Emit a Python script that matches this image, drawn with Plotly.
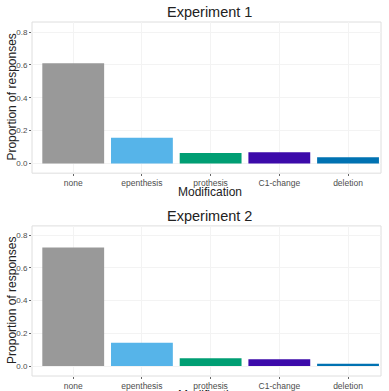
import plotly.graph_objects as go
from plotly.subplots import make_subplots

categories = ["none", "epenthesis", "prothesis", "C1-change", "deletion"]
exp1_values = [0.61, 0.157, 0.063, 0.068, 0.038]
exp2_values = [0.725, 0.142, 0.047, 0.041, 0.014]
bar_colors = ["#999999", "#56B4E9", "#009E73", "#3C0AAA", "#0072B2"]
y_ticks = [0.0, 0.2, 0.4, 0.6, 0.8]
y_tick_labels = ["0.0", "0.2", "0.4", "0.6", "0.8"]
titles = ["Experiment 1", "Experiment 2"]

fig = make_subplots(rows=2, cols=1, vertical_spacing=0.15)
for i, vals in enumerate([exp1_values, exp2_values], start=1):
    fig.add_trace(go.Bar(x=categories, y=vals, marker_color=bar_colors,
                         marker_line_width=0, showlegend=False, hoverinfo="skip"),
                  row=i, col=1)

font = "Liberation Sans, Arial, sans-serif"
x_axes = dict(showline=False, mirror=False, showgrid=True, gridcolor="#f3f3f3",
              ticks="outside", ticklen=2, tickcolor="#666666", automargin=False,
              tickfont=dict(size=8.5, color="#4d4d4d", family=font), zeroline=False)
y_axes = dict(showline=False, mirror=False, showgrid=True, gridcolor="#f3f3f3",
              ticks="outside", ticklen=2, tickcolor="#666666", automargin=False,
              tickfont=dict(size=8, color="#4d4d4d", family=font), zeroline=False)

fig.update_layout(
    width=389, height=391, bargap=0.1,
    margin=dict(l=32, r=8, t=22, b=15),
    paper_bgcolor="white", plot_bgcolor="white",
    xaxis=dict(domain=[0, 1], range=[-0.6, 4.48], **x_axes),
    xaxis2=dict(domain=[0, 1], range=[-0.6, 4.48], **x_axes),
    yaxis=dict(domain=[0.573, 1.0], range=[-0.059, 0.861], tickvals=y_ticks,
               ticktext=y_tick_labels, **y_axes),
    yaxis2=dict(domain=[0.0, 0.424], range=[-0.061, 0.857], tickvals=y_ticks,
                ticktext=y_tick_labels, **y_axes),
)

# panel borders
for yd in [(0.573, 1.0), (0.0, 0.424)]:
    fig.add_shape(type="rect", xref="paper", yref="paper", x0=0, x1=1, y0=yd[0], y1=yd[1],
                  line=dict(color="#dedede", width=1), fillcolor="rgba(0,0,0,0)", layer="below")

# titles and axis labels
title_y = [1.0, 0.424]
panel_bottom = [0.573, 0.0]
panel_mid = [(0.573 + 1.0) / 2, 0.212]
for k in range(2):
    fig.add_annotation(text=titles[k], xref="paper", yref="paper", x=0.51, y=title_y[k],
                       yshift=0, yanchor="bottom", showarrow=False,
                       font=dict(size=14.5, color="#222222", family=font))
    fig.add_annotation(text="Modification", xref="paper", yref="paper", x=0.51, y=panel_bottom[k],
                       yshift=-10, yanchor="top", showarrow=False,
                       font=dict(size=12, color="#222222", family=font))
    fig.add_annotation(text="Proportion of responses", xref="paper", yref="paper",
                       x=0, xshift=-20, y=panel_mid[k], textangle=-90,
                       xanchor="center", yanchor="middle", showarrow=False,
                       font=dict(size=12, color="#222222", family=font))

fig.write_html("out.html", config={"displayModeBar": False},
               post_script="document.body.style.margin='0';")
